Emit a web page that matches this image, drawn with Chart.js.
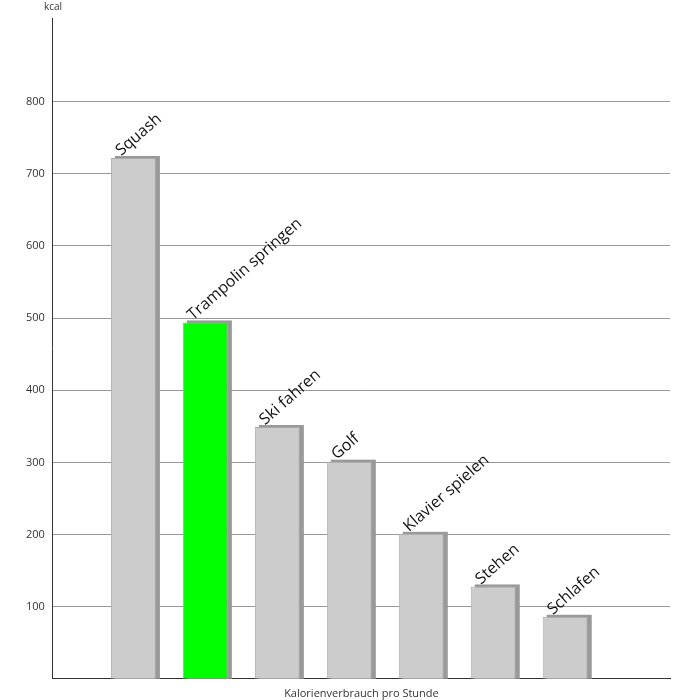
<!DOCTYPE html>
<html>
<head>
<meta charset="utf-8">
<script src="https://cdn.jsdelivr.net/npm/chart.js@4"></script>
<style>
  body { margin: 0; background: #fff; }
  #wrap { width: 700px; height: 700px; position: relative; }
</style>
</head>
<body>
<div id="wrap"><canvas id="c"></canvas></div>
<script>
Chart.defaults.font.family = 'Open Sans';
Chart.defaults.color = '#333';

const categories = ['Squash', 'Trampolin springen', 'Ski fahren', 'Golf', 'Klavier spielen', 'Stehen', 'Schlafen'];
const kcalValues = [722, 494, 349, 301, 201, 128, 86];
const barColors = ['#cccccc', '#00ff00', '#cccccc', '#cccccc', '#cccccc', '#cccccc', '#cccccc'];
const tickValues = [100, 200, 300, 400, 500, 600, 700, 800];

// Schatten hinter den Balken (eigene Rechtecke aus der Balkengeometrie)
const shadowPlugin = {
    id: 'shadowPlugin',
    beforeDatasetsDraw: (chart) => {
        const { ctx } = chart;
        const meta = chart.getDatasetMeta(0);
        ctx.save();
        ctx.fillStyle = '#999999';
        meta.data.forEach((bar) => {
            const w = bar.width;
            ctx.fillRect(bar.x - w / 2 + 4, bar.y - 2, w, bar.base - bar.y + 2);
        });
        ctx.restore();
    }
};

// Schräge Beschriftung über den Balken
const labelPlugin = {
    id: 'labelPlugin',
    afterDatasetsDraw: (chart) => {
        const { ctx } = chart;
        const meta = chart.getDatasetMeta(0);
        ctx.save();
        ctx.font = '16px Open Sans';
        ctx.fillStyle = '#111';
        ctx.textAlign = 'left';
        ctx.textBaseline = 'bottom';
        meta.data.forEach((bar, i) => {
            ctx.save();
            ctx.translate(bar.x - 10, bar.y + 1);
            ctx.rotate(-0.72);
            ctx.fillText(categories[i], 0, 0);
            ctx.restore();
        });
        ctx.font = '10px Open Sans';
        ctx.fillStyle = '#333';
        ctx.textBaseline = 'top';
        ctx.fillText('kcal', 44, 2);
        ctx.restore();
    }
};

new Chart(document.getElementById('c').getContext('2d'), {
    type: 'bar',
    data: {
        datasets: [{
            data: kcalValues.map((v, i) => ({ x: i, y: v })),
            backgroundColor: barColors,
            borderColor: '#aaaaaa',
            borderWidth: 1,
            barPercentage: 0.68,
            categoryPercentage: 1
        }]
    },
    options: {
        responsive: true, maintainAspectRatio: false, animation: false,
        layout: { padding: { top: 18, right: 30, left: 18, bottom: 0 } },
        plugins: { legend: { display: false }, tooltip: { enabled: false } },
        scales: {
            x: {
                type: 'linear', min: -0.583, max: 6.92,
                grid: { display: false },
                border: { color: '#333' },
                ticks: { display: false },
                title: { display: true, text: 'Kalorienverbrauch pro Stunde', font: { size: 11 }, padding: { top: 0, bottom: 0 } }
            },
            y: {
                min: 0, max: 916,
                border: { color: '#333' },
                afterBuildTicks: (axis) => { axis.ticks = tickValues.map(v => ({ value: v })); },
                grid: { color: '#999', drawTicks: false },
                ticks: { font: { size: 11 }, padding: 8 }
            }
        }
    },
    plugins: [shadowPlugin, labelPlugin]
});
</script>
</body>
</html>
